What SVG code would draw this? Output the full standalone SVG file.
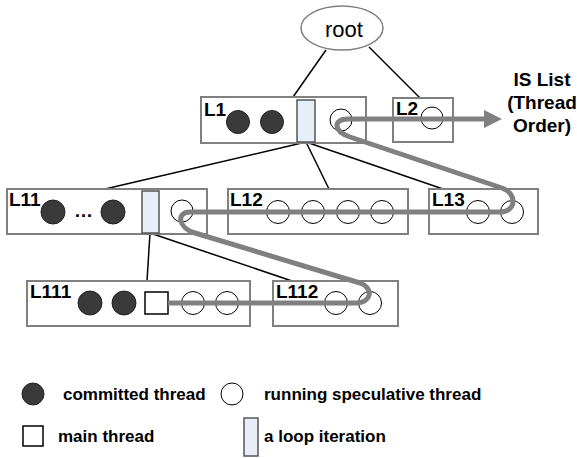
<svg xmlns="http://www.w3.org/2000/svg" width="577" height="458" viewBox="0 0 577 458">
<style>
text{font-family:"Liberation Sans",Arial,sans-serif;fill:#000}
.lbl{font-weight:bold;font-size:19px}
.side{font-weight:bold;font-size:19px}
.leg{font-weight:bold;font-size:17px}
.box{fill:#fff;stroke:#808080;stroke-width:2}
.done{fill:#3a3a3a;stroke:#222;stroke-width:1}
.run{fill:#fff;stroke:#000;stroke-width:1}
.iter{fill:#e8eef8;stroke:#555;stroke-width:1.5}
.main{fill:#fff;stroke:#000;stroke-width:1.5}
.edge{stroke:#000;stroke-width:1.5;fill:none}
.order{stroke:#808080;stroke-width:5;fill:none;stroke-linejoin:round}
</style>
<g id="connectors">
<line class="edge" x1="326" y1="50" x2="293" y2="97"/>
<line class="edge" x1="369" y1="47" x2="420" y2="98"/>
<line class="edge" x1="306" y1="142" x2="105" y2="189"/>
<line class="edge" x1="306" y1="142" x2="329" y2="189"/>
<line class="edge" x1="306" y1="142" x2="443" y2="189"/>
<line class="edge" x1="150" y1="233" x2="147" y2="281"/>
<line class="edge" x1="150" y1="233" x2="292" y2="281"/>
</g>
<g id="root">
<ellipse cx="342" cy="28" rx="41" ry="22" fill="#fff" stroke="#808080" stroke-width="1.5"/>
<text x="344" y="37" font-size="22" text-anchor="middle">root</text>
</g>
<g id="L1">
<rect class="box" x="201" y="97" width="165" height="46"/>
<text class="lbl" x="204" y="116">L1</text>
<circle class="done" cx="238" cy="122" r="11.5"/>
<circle class="done" cx="272" cy="122" r="11.5"/>
<rect class="iter" x="297" y="100" width="18" height="42"/>
<circle class="run" cx="341" cy="120" r="11"/>
</g>
<g id="L2">
<rect class="box" x="393" y="98" width="60" height="44"/>
<text class="lbl" x="396" y="115">L2</text>
<circle class="run" cx="432" cy="118" r="11"/>
</g>
<g id="L11">
<rect class="box" x="7" y="189" width="200" height="45"/>
<text class="lbl" x="9" y="206">L11</text>
<circle class="done" cx="53" cy="212" r="12"/>
<text class="lbl" x="74" y="217">…</text>
<circle class="done" cx="113" cy="212" r="12"/>
<rect class="iter" x="142" y="191" width="17" height="42"/>
<circle class="run" cx="182" cy="211" r="11"/>
</g>
<g id="L12">
<rect class="box" x="228" y="189" width="180" height="45"/>
<text class="lbl" x="230" y="206">L12</text>
<circle class="run" cx="278" cy="212" r="11.5"/>
<circle class="run" cx="313" cy="212" r="11.5"/>
<circle class="run" cx="348" cy="212" r="11.5"/>
<circle class="run" cx="382" cy="212" r="11.5"/>
</g>
<g id="L13">
<rect class="box" x="429" y="189" width="109" height="45"/>
<text class="lbl" x="432" y="206">L13</text>
<circle class="run" cx="478" cy="212" r="11.5"/>
<circle class="run" cx="512" cy="212" r="11.5"/>
</g>
<g id="L111">
<rect class="box" x="27" y="281" width="223" height="45"/>
<text class="lbl" x="30" y="298">L111</text>
<circle class="done" cx="90" cy="303" r="12"/>
<circle class="done" cx="124" cy="303" r="12"/>
<rect class="main" x="145" y="292" width="23" height="22"/>
<circle class="run" cx="193" cy="303" r="11.5"/>
<circle class="run" cx="227" cy="303" r="11.5"/>
</g>
<g id="L112">
<rect class="box" x="273" y="281" width="125" height="45"/>
<text class="lbl" x="276" y="298">L112</text>
<circle class="run" cx="336" cy="303" r="11.5"/>
<circle class="run" cx="370" cy="303" r="11.5"/>
</g>
<g id="is-order">
<path class="order" d="M168,303 H355 C372,303 374,288 360,283 L195,233 C178,228 176,212 190,212 H500 C516,212 518,194 502,188 L350,137 C333,131 333,119 348,119 H486"/>
<polygon points="502,119 484,110 484,128" fill="#808080"/>
<text class="side" x="542" y="86" text-anchor="middle">IS List</text>
<text class="side" x="542" y="109" text-anchor="middle">(Thread</text>
<text class="side" x="542" y="132" text-anchor="middle">Order)</text>
</g>
<g id="legend">
<circle class="done" cx="33" cy="394" r="11"/>
<text class="leg" x="63" y="400">committed thread</text>
<circle class="run" cx="232" cy="394" r="11"/>
<text class="leg" x="264" y="400">running speculative thread</text>
<rect class="main" x="23" y="426" width="20" height="20"/>
<text class="leg" x="58" y="442">main thread</text>
<rect class="iter" x="244" y="418" width="14" height="38"/>
<text class="leg" x="264" y="442">a loop iteration</text>
</g>
</svg>
